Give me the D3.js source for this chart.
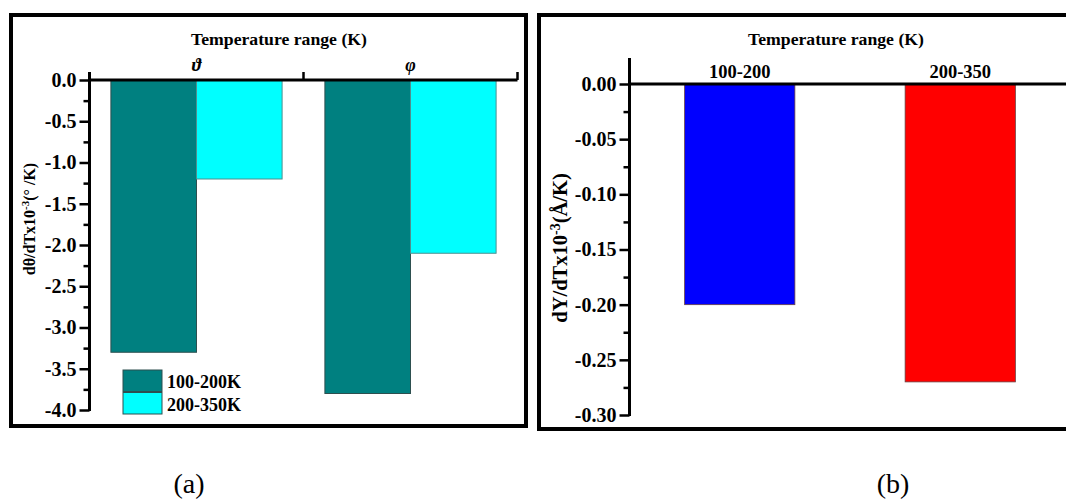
<!DOCTYPE html>
<html>
<head>
<meta charset="utf-8">
<script src="https://cdn.jsdelivr.net/npm/d3@7"></script>
<style>
  html, body { margin: 0; padding: 0; background: #fff; }
  svg { display: block; }
  text { font-family: "Liberation Serif", "Times New Roman", serif; }
</style>
</head>
<body>
<svg id="fig" width="1066" height="503"></svg>
<script>
// Panel (a): angular temperature coefficients
const groupsA = ["ϑ", "φ"];
const seriesA = ["100-200K", "200-350K"];
const values100to200A = [-3.3, -3.8];
const values200to350A = [-1.2, -2.1];
const majorTicksA = [0.0, -0.5, -1.0, -1.5, -2.0, -2.5, -3.0, -3.5, -4.0];
const minorTicksA = [-0.25, -0.75, -1.25, -1.75, -2.25, -2.75, -3.25, -3.75];
const colorsA = ["#008080", "#00FFFF"];

// Panel (b): lattice-parameter temperature coefficients
const categoriesB = ["100-200", "200-350"];
const valuesB = [-0.20, -0.27];
const majorTicksB = [0.00, -0.05, -0.10, -0.15, -0.20, -0.25, -0.30];
const minorTicksB = [-0.025, -0.075, -0.125, -0.175, -0.225, -0.275];
const colorsB = ["#0000FF", "#FF0000"];

const svg = d3.select("#fig");
svg.append("rect").attr("width", 1066).attr("height", 503).attr("fill", "#fff");

// ---------- panel frames ----------
svg.append("rect").attr("x", 11).attr("y", 15).attr("width", 515).attr("height", 411)
  .attr("fill", "none").attr("stroke", "#000").attr("stroke-width", 4);
svg.append("rect").attr("x", 539).attr("y", 15).attr("width", 600).attr("height", 414)
  .attr("fill", "none").attr("stroke", "#000").attr("stroke-width", 4);

function styleAxis(g, width) {
  g.attr("font-family", null);
  g.select(".domain").remove();
  g.selectAll(".tick line").attr("stroke", "#000").attr("stroke-width", width);
  g.selectAll(".tick text")
    .attr("font-weight", "bold")
    .attr("font-size", 20)
    .attr("fill", "#000");
}

// plain hyphen for negatives, as in the printed figure
const fmt = digits => d => d.toFixed(digits);

// ---------- panel (a) ----------
const xA = d3.scaleBand().domain(groupsA).range([89.5, 517.5])
  .paddingInner(0.2).paddingOuter(0.1);
const xSubA = d3.scaleBand().domain(seriesA).range([0, xA.bandwidth()]);
const yA = d3.scaleLinear().domain([0, -4]).range([80, 410]);

const gA = svg.append("g");
const barsA = groupsA.map((g, i) => [
  { group: g, series: seriesA[0], value: values100to200A[i] },
  { group: g, series: seriesA[1], value: values200to350A[i] }
]).flat();

gA.selectAll("rect.bar").data(barsA).join("rect")
  .attr("class", "bar")
  .attr("x", d => xA(d.group) + xSubA(d.series))
  .attr("y", yA(0))
  .attr("width", xSubA.bandwidth())
  .attr("height", d => yA(d.value) - yA(0))
  .attr("fill", d => colorsA[seriesA.indexOf(d.series)])
  .attr("stroke", d => d.series === seriesA[0] ? "#2d4f4f" : "#4f8f8f")
  .attr("stroke-width", 1);

// y axis (major + minor ticks)
const yAxisA = gA.append("g").attr("transform", "translate(89.5,0)")
  .call(d3.axisLeft(yA).tickValues(majorTicksA).tickFormat(fmt(1)).tickSize(10).tickPadding(3));
styleAxis(yAxisA, 2.5);
const yMinorA = gA.append("g").attr("transform", "translate(89.5,0)")
  .call(d3.axisLeft(yA).tickValues(minorTicksA).tickFormat("").tickSize(6));
styleAxis(yMinorA, 2.5);

// top category axis with ticks at group boundaries
const boundsA = [xA.range()[0], (xA(groupsA[0]) + xA.bandwidth() + xA(groupsA[1])) / 2, xA.range()[1]];
gA.append("line").attr("x1", xA.range()[0]).attr("x2", xA.range()[1])
  .attr("y1", yA(0)).attr("y2", yA(0)).attr("stroke", "#000").attr("stroke-width", 3);
gA.selectAll("line.xtick").data(boundsA).join("line")
  .attr("class", "xtick")
  .attr("x1", d => d).attr("x2", d => d)
  .attr("y1", yA(0)).attr("y2", yA(0) - 8)
  .attr("stroke", "#000").attr("stroke-width", 2.5);
gA.append("line").attr("x1", 89.5).attr("x2", 89.5)
  .attr("y1", yA(0) - 8).attr("y2", yA(-4) + 1).attr("stroke", "#000").attr("stroke-width", 3);

gA.selectAll("text.cat").data(groupsA).join("text")
  .attr("class", "cat")
  .attr("x", d => xA(d) + xA.bandwidth() / 2)
  .attr("y", 71)
  .attr("text-anchor", "middle")
  .attr("font-weight", "bold").attr("font-style", "italic")
  .attr("font-size", 18)
  .text(d => d);

gA.append("text").attr("x", 279).attr("y", 45).attr("text-anchor", "middle")
  .attr("font-weight", "bold").attr("font-size", 17.7)
  .text("Temperature range (K)");

// y label
const labA = gA.append("text")
  .attr("transform", "translate(35,219) rotate(-90)")
  .attr("text-anchor", "middle")
  .attr("font-weight", "bold").attr("font-size", 16);
labA.append("tspan").text("dθ/dTx10");
labA.append("tspan").attr("dy", -6).attr("font-size", 11).text("-3");
labA.append("tspan").attr("dy", 6).text("(° /K)");

// legend
const legA = gA.append("g");
seriesA.forEach((s, i) => {
  legA.append("rect").attr("x", 123).attr("y", 370 + i * 22.5)
    .attr("width", 39).attr("height", 21.5)
    .attr("fill", colorsA[i]).attr("stroke", "#2d4f4f").attr("stroke-width", 1);
  legA.append("text").attr("x", 167).attr("y", 388 + i * 23)
    .attr("font-weight", "bold").attr("font-size", 18).text(s);
});

// ---------- panel (b) ----------
const xB = d3.scaleBand().domain(categoriesB).range([629.5, 1070.5])
  .paddingInner(0.5).paddingOuter(0.25);
const yB = d3.scaleLinear().domain([0, -0.30]).range([84, 415]);
const gB = svg.append("g");

gB.selectAll("rect.bar").data(categoriesB.map((c, i) => ({ c, v: valuesB[i], col: colorsB[i] })))
  .join("rect").attr("class", "bar")
  .attr("x", d => xB(d.c))
  .attr("y", yB(0))
  .attr("width", xB.bandwidth())
  .attr("height", d => yB(d.v) - yB(0))
  .attr("fill", d => d.col)
  .attr("stroke", "#6a4040").attr("stroke-width", 0.8);

const yAxisB = gB.append("g").attr("transform", "translate(629.5,0)")
  .call(d3.axisLeft(yB).tickValues(majorTicksB).tickFormat(fmt(2)).tickSize(10).tickPadding(3));
styleAxis(yAxisB, 2.5);
const yMinorB = gB.append("g").attr("transform", "translate(629.5,0)")
  .call(d3.axisLeft(yB).tickValues(minorTicksB).tickFormat("").tickSize(6));
styleAxis(yMinorB, 2.5);

gB.append("line").attr("x1", 629.5).attr("x2", 1070)
  .attr("y1", yB(0)).attr("y2", yB(0)).attr("stroke", "#000").attr("stroke-width", 3);
gB.append("line").attr("x1", 629.5).attr("x2", 629.5)
  .attr("y1", yB(0.0235)).attr("y2", yB(-0.30) + 1).attr("stroke", "#000").attr("stroke-width", 3);

gB.selectAll("text.cat").data(categoriesB).join("text")
  .attr("class", "cat")
  .attr("x", d => xB(d) + xB.bandwidth() / 2)
  .attr("y", 78)
  .attr("text-anchor", "middle")
  .attr("font-weight", "bold").attr("font-size", 18.5)
  .text(d => d);

gB.append("text").attr("x", 836).attr("y", 45).attr("text-anchor", "middle")
  .attr("font-weight", "bold").attr("font-size", 17.7)
  .text("Temperature range (K)");

const labB = gB.append("text")
  .attr("transform", "translate(567,248) rotate(-90)")
  .attr("text-anchor", "middle")
  .attr("font-weight", "bold").attr("font-size", 20.5);
labB.append("tspan").text("dY/dTx10");
labB.append("tspan").attr("dy", -7).attr("font-size", 14).text("-3");
labB.append("tspan").attr("dy", 7).text("(Å/K)");

// ---------- captions ----------
svg.append("text").attr("x", 189).attr("y", 493).attr("text-anchor", "middle")
  .attr("font-size", 28).text("(a)");
svg.append("text").attr("x", 893).attr("y", 493).attr("text-anchor", "middle")
  .attr("font-size", 28).text("(b)");
</script>
</body>
</html>
